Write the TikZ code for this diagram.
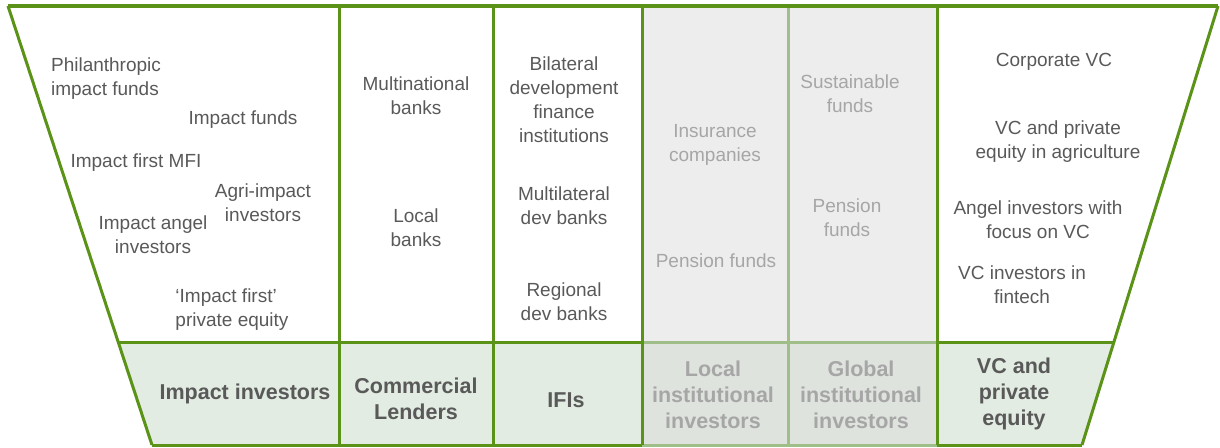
\documentclass[tikz,border=0pt]{standalone}
\usepackage{fontspec}
\setmainfont{Liberation Sans}

\definecolor{frame}{RGB}{91,146,24}
\definecolor{paleframe}{RGB}{160,190,135}
\definecolor{bandfill}{RGB}{226,236,226}
\definecolor{greyband}{RGB}{222,227,222}
\definecolor{greycol}{RGB}{237,237,237}
\definecolor{ink}{RGB}{89,89,89}
\definecolor{faint}{RGB}{166,166,166}

\begin{document}
\begin{tikzpicture}
      [ x=1pt, y=-1pt
      , item/.style={ink, font=\fontsize{19}{24}\selectfont, align=center, inner sep=0pt, yshift=-2pt}
      , faded/.style={item, faint}
      , group/.style={ink, font=\fontsize{21.5}{26}\selectfont\bfseries, align=center, inner sep=0pt, yshift=-2.5pt}
      , fadedgroup/.style={group, faint}
      , edge/.style={frame, line width=3pt}
      , paleedge/.style={paleframe, line width=3pt}
      ]
    \useasboundingbox (0,0) rectangle (1220,447);

    % funnel corners
    \coordinate (TL) at (8,6);
    \coordinate (TR) at (1218,6);
    \coordinate (ML) at (118,342);
    \coordinate (MR) at (1113,342);
    \coordinate (BL) at (152,445);
    \coordinate (BR) at (1082,445);

    \fill[bandfill] (ML) -- (MR) -- (BR) -- (BL) -- cycle;
    \fill[greycol] (642,6) rectangle (937,342);
    \fill[greyband] (642,342) rectangle (937,445);

    \draw[paleedge] (788,6) -- (788,445);
    \draw[paleedge] (642,342) -- (937,342);
    \draw[paleedge] (642,445) -- (937,445);

    \foreach \x in {339,493,642,937}
      \draw[edge] (\x,6) -- (\x,445);
    \draw[edge] (ML) -- (642,342);
    \draw[edge] (937,342) -- (MR);
    \draw[edge] (BL) -- (642,445);
    \draw[edge] (937,445) -- (BR);
    \draw[edge] (BR) -- (TR);
    \draw[edge] (BL) -- (TL);
    \draw[frame, line width=4pt] (TL) -- (TR);

    % impact investors
    \node[item, align=left] (PIF) at (106,77) {Philanthropic\\impact funds};
    \node[item] (IF) at (243,118) {Impact funds};
    \node[item] (MFI) at (136,161) {Impact first MFI};
    \node[item] (AGRI) at (263,201) {Agri-impact\\investors};
    \node[item] (ANGEL) at (153,233) {Impact angel\\investors};
    \node[item, align=left] (IFPE) at (232,308) {‘Impact first’\\private equity};

    % commercial lenders
    \node[item] (MNB) at (416,94) {Multinational\\banks};
    \node[item] (LB) at (416,226) {Local\\banks};

    % IFIs
    \node[item] (BDFI) at (564,98) {Bilateral\\development\\finance\\institutions};
    \node[item] (MDB) at (564,204) {Multilateral\\dev banks};
    \node[item] (RDB) at (564,300) {Regional\\dev banks};

    % institutional investors
    \node[faded] (INS) at (715,143) {Insurance\\companies};
    \node[faded] (PFL) at (716,259) {Pension funds};
    \node[faded] (SF) at (850,92) {Sustainable\\funds};
    \node[faded] (PFG) at (847,216) {Pension\\funds};

    % VC and private equity
    \node[item] (CVC) at (1054,60) {Corporate VC};
    \node[item] (VCA) at (1058,140) {VC and private\\equity in agriculture};
    \node[item] (AIV) at (1038,218) {Angel investors with\\focus on VC};
    \node[item] (VCF) at (1022,283) {VC investors in\\fintech};

    % band
    \node[group] (II) at (245,391) {Impact investors};
    \node[group] (CL) at (416,396) {Commercial\\Lenders};
    \node[group] (IFI) at (566,398) {IFIs};
    \node[fadedgroup] (LII) at (713,392) {Local\\institutional\\investors};
    \node[fadedgroup] (GII) at (861,392) {Global\\institutional\\investors};
    \node[group] (VCPE) at (1014,391) {VC and\\private\\equity};
    \end{tikzpicture}
\end{document}
